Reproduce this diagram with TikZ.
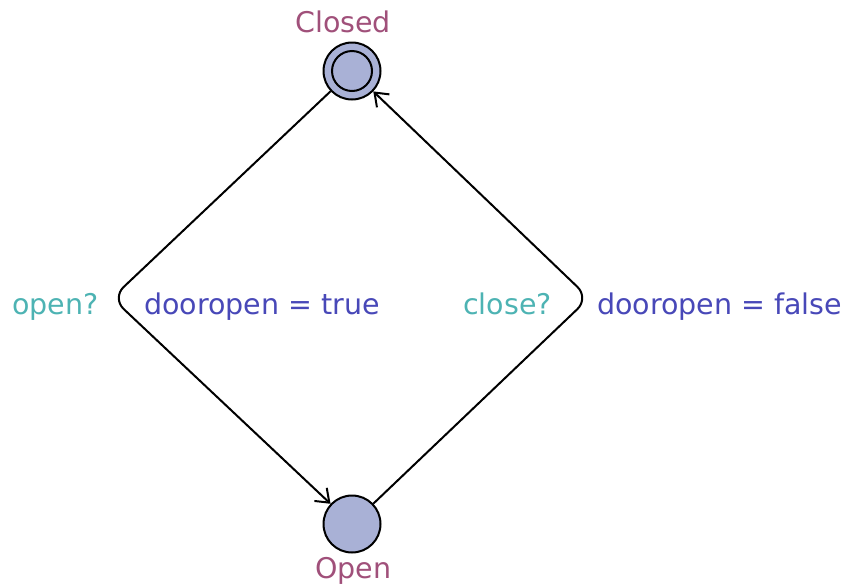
\documentclass[tikz,border=0pt]{standalone}
\usepackage{fontspec}
\setmainfont{DejaVu Sans}
\usetikzlibrary{arrows.meta}
\definecolor{locname}{HTML}{A0507A}
\definecolor{syncc}{HTML}{4DB3B3}
\definecolor{assignc}{HTML}{4848B8}
\definecolor{locfill}{HTML}{A9B1D6}
\tikzset{
  loc/.style={circle, draw=black, fill=locfill, line width=2pt, minimum size=57pt, inner sep=0pt},
  lbl/.style={anchor=base west, inner sep=0pt, font=\fontsize{28.5}{31}\selectfont},
  edge/.style={line width=2pt, rounded corners=16pt, -{Straight Barb[length=12pt,width=18pt,line width=2pt]}}
}
\begin{document}
\begin{tikzpicture}[x=1pt,y=-1pt]
\useasboundingbox (0,0) rectangle (846,587);
\node[loc] (closed) at (352,71) {};
\draw[line width=2pt] (closed.center) circle (20pt);
\node[loc] (open) at (352,524) {};
\coordinate (L) at (112,298);
\coordinate (R) at (589,298);
\draw[edge] (closed) -- (L) -- (open);
\draw[edge] (open) -- (R) -- (closed);
\node[lbl, text=locname] (tclosed) at (295,32) {Closed};
\node[lbl, text=locname] (topen) at (315,578) {Open};
\node[lbl, text=syncc] (s1) at (12,314) {open?};
\node[lbl, text=assignc] (a1) at (144,314) {dooropen = true};
\node[lbl, text=syncc] (s2) at (463,314) {close?};
\node[lbl, text=assignc] (a2) at (597,314) {dooropen = false};
\end{tikzpicture}
\end{document}
